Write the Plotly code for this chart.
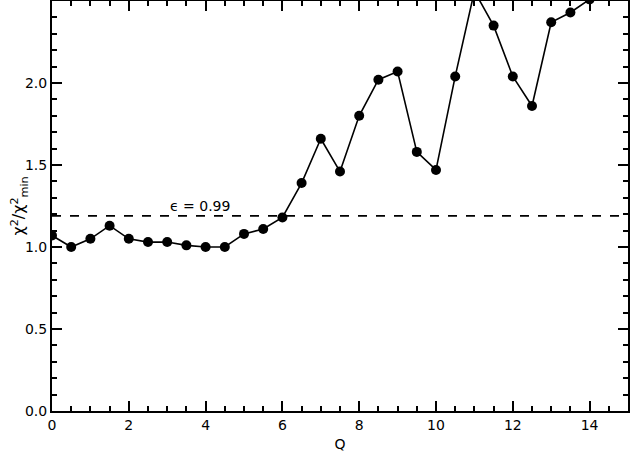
import plotly.graph_objects as go

q = [0, 0.5, 1, 1.5, 2, 2.5, 3, 3.5, 4, 4.5, 5, 5.5, 6, 6.5, 7, 7.5,
     8, 8.5, 9, 9.5, 10, 10.5, 11, 11.5, 12, 12.5, 13, 13.5, 14]
chi_ratio = [1.07, 1.00, 1.05, 1.13, 1.05, 1.03, 1.03, 1.01, 1.00, 1.00,
             1.08, 1.11, 1.18, 1.39, 1.66, 1.46, 1.80, 2.02, 2.07, 1.58,
             1.47, 2.04, 2.56, 2.35, 2.04, 1.86, 2.37, 2.43, 2.51]
threshold = 1.19
threshold_label = "ϵ = 0.99"
y_title = "χ<sup>2</sup>/χ<sup>2</sup><sub>min</sub>"

font = "DejaVu Sans"

fig = go.Figure()
fig.add_trace(go.Scatter(
    x=q, y=chi_ratio, mode="lines+markers",
    line=dict(color="black", width=1.6),
    marker=dict(color="black", size=10),
    showlegend=False,
))
fig.add_shape(type="line", xref="paper", yref="y", x0=0, x1=1,
              y0=threshold, y1=threshold,
              line=dict(color="black", width=1.6, dash="dash"))
fig.add_annotation(x=3.85, y=threshold, yshift=10, text=threshold_label,
                   showarrow=False, font=dict(family=font, size=14, color="black"))
# y title as an annotation so it can sit where the original has it
fig.add_annotation(xref="paper", yref="paper", x=-0.058, y=0.5, text=y_title,
                   xanchor="center", yanchor="middle",
                   textangle=-90, showarrow=False,
                   font=dict(family=font, size=16, color="black"))

axis_common = dict(
    showgrid=False, zeroline=False, showline=True, linecolor="black",
    linewidth=2, mirror="allticks", ticks="inside", tickcolor="black",
    tickwidth=1.5, ticklen=10, automargin=False,
    tickfont=dict(family=font, size=14, color="black"),
)
fig.update_xaxes(**axis_common, range=[0, 15], dtick=2, tick0=0,
                 minor=dict(dtick=0.5, ticklen=5, ticks="inside",
                            tickcolor="black", tickwidth=1.5),
                 title=dict(text="Q", font=dict(family=font, size=14, color="black")))
fig.update_yaxes(**axis_common, range=[0, 2.5], dtick=0.5, tick0=0,
                 tickformat=".1f",
                 minor=dict(dtick=0.1, ticklen=5, ticks="inside",
                            tickcolor="black", tickwidth=1.5))
fig.update_layout(
    width=631, height=452,
    margin=dict(l=52, r=3, t=1, b=41),
    plot_bgcolor="white", paper_bgcolor="white",
)
fig.write_html(
    "out.html",
    config={"responsive": False, "displayModeBar": False},
    post_script="document.body.style.margin='0';document.body.style.overflow='hidden';",
)
